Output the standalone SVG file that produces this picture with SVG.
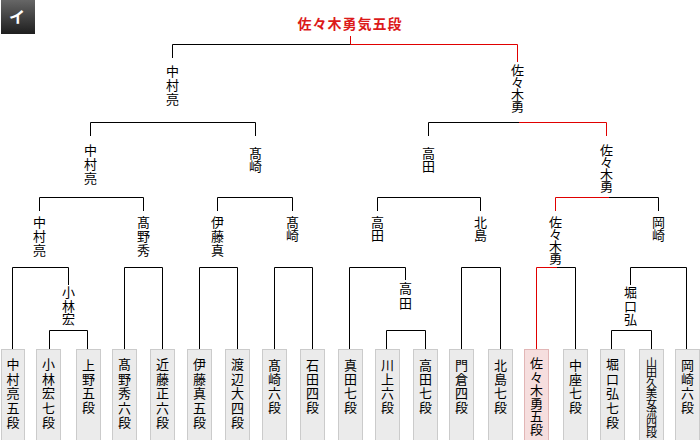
<svg xmlns="http://www.w3.org/2000/svg" width="700" height="440" viewBox="0 0 700 440">
<defs>
<linearGradient id="bg" x1="0" y1="0" x2="0" y2="1"><stop offset="0" stop-color="#666"/><stop offset="1" stop-color="#1e1e1e"/></linearGradient>
</defs>
<style>
.ln{stroke:#000;stroke-width:1;fill:none}
.rd{stroke:#e00000;stroke-width:1;fill:none}
text{font-family:"Noto Sans CJK JP","Noto Sans CJK SC",sans-serif;font-size:13px;fill:#000}
.v{writing-mode:vertical-rl;text-anchor:start}
.title{font-size:14px;font-weight:bold;fill:#dc1a1a;letter-spacing:1px;text-anchor:middle}
.lf{fill:#ebebeb;stroke:#cbcbcb;stroke-width:1}
.wn{fill:#f6dede;stroke:#e2b6b6;stroke-width:1}
.badge text{fill:#fff;font-size:16px;font-weight:bold;text-anchor:middle}
.s3{letter-spacing:1px}
.s2{letter-spacing:0px}
.s4{letter-spacing:-1px}
.p5{letter-spacing:1.5px}
.p4{letter-spacing:1px}
</style>
<g id="badge" class="badge"><rect x="1" y="0" width="34" height="34" fill="url(#bg)"/><text x="17" y="23">イ</text></g>
<g id="champion"><text class="title" x="350" y="29">佐々木勇気五段</text></g>
<g id="connectors">
<path class="rd" d="M350.5 36V44.5H517.5V62"/>
<path class="ln" d="M350.5 44.5H172.5V58"/>
<path class="ln" d="M90.5 136V122.5H255.5V136"/>
<path class="ln" d="M428.5 136V122.5H519"/>
<path class="rd" d="M519 122.5H606.5V136"/>
<path class="ln" d="M39.5 211V197.5H143.5V211"/>
<path class="ln" d="M217.5 211V197.5H292.5V211"/>
<path class="ln" d="M377.5 211V197.5H480.5V211"/>
<path class="rd" d="M555.5 211V197.5H609"/>
<path class="ln" d="M609 197.5H658.5V211"/>
<path class="ln" d="M12.5 349V267.5H68.5V285"/>
<path class="ln" d="M124.5 349V267.5H162.5V349"/>
<path class="ln" d="M199.5 349V267.5H237.5V349"/>
<path class="ln" d="M274.5 349V267.5H312.5V349"/>
<path class="ln" d="M349.5 349V267.5H405.5V280"/>
<path class="ln" d="M461.5 349V267.5H500.5V349"/>
<path class="rd" d="M536.5 349V267.5H557"/>
<path class="ln" d="M557 267.5H575.5V349"/>
<path class="ln" d="M630.5 285V267.5H686.5V349"/>
<path class="ln" d="M49.5 349V330.5H87.5V349"/>
<path class="ln" d="M386.5 349V330.5H425.5V349"/>
<path class="ln" d="M611.5 349V330.5H651.5V349"/>
</g>
<g id="w1-nakamura"><text class="v s3" x="172.5" y="65">中村亮</text></g>
<g id="w1-sasaki"><text class="v s4" x="517.5" y="64">佐々木勇</text></g>
<g id="w2-nakamura"><text class="v s3" x="90.5" y="144">中村亮</text></g>
<g id="w2-takasaki"><text class="v s2" x="255.5" y="147">髙崎</text></g>
<g id="w2-takada"><text class="v s2" x="428.5" y="147">高田</text></g>
<g id="w2-sasaki"><text class="v s4" x="606.5" y="144">佐々木勇</text></g>
<g id="w3-nakamura"><text class="v s3" x="39.5" y="216">中村亮</text></g>
<g id="w3-takano"><text class="v s3" x="143.5" y="216">髙野秀</text></g>
<g id="w3-ito"><text class="v s3" x="217.5" y="216">伊藤真</text></g>
<g id="w3-takasaki"><text class="v s2" x="292.5" y="216">髙崎</text></g>
<g id="w3-takada"><text class="v s2" x="377.5" y="216">高田</text></g>
<g id="w3-kitajima"><text class="v s2" x="480.5" y="216">北島</text></g>
<g id="w3-sasaki"><text class="v s4" x="555.5" y="216">佐々木勇</text></g>
<g id="w3-okazaki"><text class="v s2" x="658.5" y="216">岡崎</text></g>
<g id="w4-kobayashi"><text class="v" style="letter-spacing:0.5px" x="68.5" y="286">小林宏</text></g>
<g id="w4-takada"><text class="v p5" x="405.5" y="282">高田</text></g>
<g id="w4-horiguchi"><text class="v" style="letter-spacing:0.5px" x="630.5" y="286">堀口弘</text></g>
<g id="p01"><rect class="lf" x="1.5" y="349.5" width="23" height="100"/><text class="v p5" x="13" y="358">中村亮五段</text></g>
<g id="p02"><rect class="lf" x="36.5" y="349.5" width="24" height="100"/><text class="v p5" x="48.5" y="358">小林宏七段</text></g>
<g id="p03"><rect class="lf" x="76.5" y="349.5" width="24" height="100"/><text class="v p4" x="88.5" y="359">上野五段</text></g>
<g id="p04"><rect class="lf" x="112.5" y="349.5" width="24" height="100"/><text class="v p5" x="124.5" y="358">髙野秀六段</text></g>
<g id="p05"><rect class="lf" x="150.5" y="349.5" width="24" height="100"/><text class="v p5" x="162.5" y="358">近藤正六段</text></g>
<g id="p06"><rect class="lf" x="187.5" y="349.5" width="24" height="100"/><text class="v p5" x="199.5" y="358">伊藤真五段</text></g>
<g id="p07"><rect class="lf" x="225.5" y="349.5" width="24" height="100"/><text class="v p5" x="237.5" y="358">渡辺大四段</text></g>
<g id="p08"><rect class="lf" x="262.5" y="349.5" width="24" height="100"/><text class="v p4" x="274.5" y="359">髙崎六段</text></g>
<g id="p09"><rect class="lf" x="300.5" y="349.5" width="24" height="100"/><text class="v p4" x="312.5" y="359">石田四段</text></g>
<g id="p10"><rect class="lf" x="338.5" y="349.5" width="24" height="100"/><text class="v p4" x="350.5" y="359">真田七段</text></g>
<g id="p11"><rect class="lf" x="375.5" y="349.5" width="24" height="100"/><text class="v p4" x="387.5" y="359">川上六段</text></g>
<g id="p12"><rect class="lf" x="413.5" y="349.5" width="24" height="100"/><text class="v p4" x="425.5" y="359">高田七段</text></g>
<g id="p13"><rect class="lf" x="449.5" y="349.5" width="24" height="100"/><text class="v p4" x="461.5" y="359">門倉四段</text></g>
<g id="p14"><rect class="lf" x="488.5" y="349.5" width="24" height="100"/><text class="v p4" x="500.5" y="359">北島七段</text></g>
<g id="p15"><rect class="wn" x="524.5" y="349.5" width="24" height="100"/><text class="v" style="letter-spacing:0.2px" x="536.5" y="357">佐々木勇五段</text></g>
<g id="p16"><rect class="lf" x="563.5" y="349.5" width="24" height="100"/><text class="v p4" x="575.5" y="359">中座七段</text></g>
<g id="p17"><rect class="lf" x="600.5" y="349.5" width="24" height="100"/><text class="v p5" x="612.5" y="358">堀口弘七段</text></g>
<g id="p18"><rect class="lf" x="639.5" y="349.5" width="24" height="100"/><text class="v" style="font-size:11px;letter-spacing:-1px" x="651.5" y="357">山田久美女流四段</text></g>
<g id="p19"><rect class="lf" x="675.5" y="349.5" width="24" height="100"/><text class="v p4" x="687.5" y="359">岡崎六段</text></g>
</svg>
